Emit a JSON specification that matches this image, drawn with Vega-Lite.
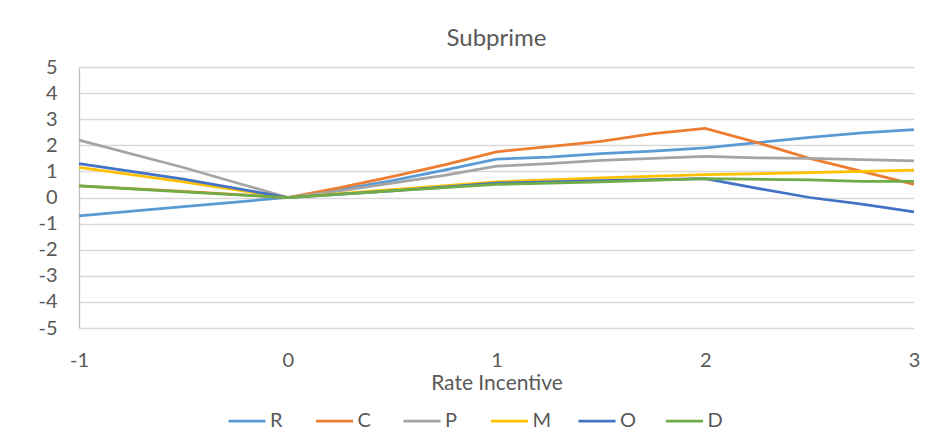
{
  "$schema": "https://vega.github.io/schema/vega-lite/v6.json",
  "width": 835,
  "height": 261,
  "autosize": "none",
  "padding": {"left": 79, "top": 67, "right": 32, "bottom": 118},
  "background": "white",
  "config": {
    "view": {"stroke": null},
    "font": "Lato"
  },
  "title": {
    "text": "Subprime",
    "fontSize": 24,
    "font": "Lato",
    "fontWeight": "normal",
    "color": "#595959",
    "anchor": "middle",
    "offset": 6
  },
  "data": {
    "values": [
      {"x": -1, "s": "R", "y": -0.7}, {"x": -0.5, "s": "R", "y": -0.35}, {"x": 0, "s": "R", "y": 0},
      {"x": 0.25, "s": "R", "y": 0.3}, {"x": 0.5, "s": "R", "y": 0.65}, {"x": 0.75, "s": "R", "y": 1.05},
      {"x": 1, "s": "R", "y": 1.47}, {"x": 1.25, "s": "R", "y": 1.55}, {"x": 1.5, "s": "R", "y": 1.68},
      {"x": 1.75, "s": "R", "y": 1.78}, {"x": 2, "s": "R", "y": 1.9}, {"x": 2.25, "s": "R", "y": 2.1},
      {"x": 2.5, "s": "R", "y": 2.3}, {"x": 2.75, "s": "R", "y": 2.48}, {"x": 3, "s": "R", "y": 2.6},

      {"x": -1, "s": "C", "y": 0.45}, {"x": -0.5, "s": "C", "y": 0.23}, {"x": 0, "s": "C", "y": 0},
      {"x": 0.25, "s": "C", "y": 0.38}, {"x": 0.5, "s": "C", "y": 0.8}, {"x": 0.75, "s": "C", "y": 1.25},
      {"x": 1, "s": "C", "y": 1.75}, {"x": 1.25, "s": "C", "y": 1.95}, {"x": 1.5, "s": "C", "y": 2.15},
      {"x": 1.75, "s": "C", "y": 2.45}, {"x": 2, "s": "C", "y": 2.65}, {"x": 2.25, "s": "C", "y": 2.1},
      {"x": 2.5, "s": "C", "y": 1.5}, {"x": 2.75, "s": "C", "y": 1.0}, {"x": 3, "s": "C", "y": 0.5},

      {"x": -1, "s": "P", "y": 2.2}, {"x": -0.5, "s": "P", "y": 1.15}, {"x": 0, "s": "P", "y": 0},
      {"x": 0.25, "s": "P", "y": 0.25}, {"x": 0.5, "s": "P", "y": 0.55}, {"x": 0.75, "s": "P", "y": 0.85},
      {"x": 1, "s": "P", "y": 1.2}, {"x": 1.25, "s": "P", "y": 1.3}, {"x": 1.5, "s": "P", "y": 1.42},
      {"x": 1.75, "s": "P", "y": 1.5}, {"x": 2, "s": "P", "y": 1.58}, {"x": 2.25, "s": "P", "y": 1.52},
      {"x": 2.5, "s": "P", "y": 1.5}, {"x": 2.75, "s": "P", "y": 1.45}, {"x": 3, "s": "P", "y": 1.4},

      {"x": -1, "s": "M", "y": 1.15}, {"x": -0.5, "s": "M", "y": 0.6}, {"x": 0, "s": "M", "y": 0},
      {"x": 0.5, "s": "M", "y": 0.3}, {"x": 1, "s": "M", "y": 0.6}, {"x": 1.5, "s": "M", "y": 0.75},
      {"x": 2, "s": "M", "y": 0.88}, {"x": 2.5, "s": "M", "y": 0.95}, {"x": 3, "s": "M", "y": 1.05},

      {"x": -1, "s": "O", "y": 1.3}, {"x": -0.5, "s": "O", "y": 0.7}, {"x": 0, "s": "O", "y": 0},
      {"x": 0.5, "s": "O", "y": 0.25}, {"x": 1, "s": "O", "y": 0.55}, {"x": 1.5, "s": "O", "y": 0.65},
      {"x": 2, "s": "O", "y": 0.72}, {"x": 2.25, "s": "O", "y": 0.35}, {"x": 2.5, "s": "O", "y": 0.0},
      {"x": 2.75, "s": "O", "y": -0.25}, {"x": 3, "s": "O", "y": -0.55},

      {"x": -1, "s": "D", "y": 0.45}, {"x": -0.5, "s": "D", "y": 0.22}, {"x": 0, "s": "D", "y": 0},
      {"x": 0.5, "s": "D", "y": 0.25}, {"x": 1, "s": "D", "y": 0.5}, {"x": 1.5, "s": "D", "y": 0.6},
      {"x": 2, "s": "D", "y": 0.72}, {"x": 2.5, "s": "D", "y": 0.68}, {"x": 2.75, "s": "D", "y": 0.62},
      {"x": 3, "s": "D", "y": 0.62}
    ]
  },
  "mark": {"type": "line", "strokeWidth": 2.75},
  "encoding": {
    "x": {
      "field": "x",
      "type": "quantitative",
      "scale": {"domain": [-1, 3], "nice": false, "zero": false},
      "axis": {
        "title": "Rate Incentive",
        "values": [-1, 0, 1, 2, 3],
        "labelExpr": "'' + datum.value",
        "labelFlush": false,
        "grid": false,
        "domain": false,
        "ticks": false,
        "labelPadding": 22,
        "labelFontSize": 20,
        "labelColor": "#595959",
        "titleFontSize": 21,
        "titleFontWeight": "normal",
        "titleColor": "#595959",
        "titlePadding": 2,
        "labelFont": "Lato",
        "titleFont": "Lato"
      }
    },
    "y": {
      "field": "y",
      "type": "quantitative",
      "scale": {"domain": [-5, 5], "nice": false},
      "axis": {
        "title": null,
        "values": [-5, -4, -3, -2, -1, 0, 1, 2, 3, 4, 5],
        "labelExpr": "'' + datum.value",
        "grid": true,
        "gridColor": "#d9d9d9",
        "gridWidth": 1.3,
        "domain": true,
        "domainColor": "#bfbfbf",
        "domainWidth": 1.3,
        "ticks": false,
        "labelPadding": 22,
        "labelFontSize": 20,
        "labelColor": "#595959",
        "labelFont": "Lato"
      }
    },
    "color": {
      "field": "s",
      "type": "nominal",
      "sort": ["R", "C", "P", "M", "O", "D"],
      "scale": {
        "domain": ["R", "C", "P", "M", "O", "D"],
        "range": ["#5b9bd5", "#ed7d31", "#a5a5a5", "#ffc000", "#4472c4", "#70ad47"]
      },
      "legend": {
        "title": null,
        "orient": "none",
        "legendX": 148,
        "legendY": 334,
        "direction": "horizontal",
        "symbolType": "stroke",
        "symbolSize": 1369,
        "symbolStrokeWidth": 2.75,
        "labelFontSize": 20,
        "labelColor": "#595959",
        "labelFont": "Lato",
        "labelOffset": 3,
        "columnPadding": 21.5,
        "gridAlign": "all"
      }
    }
  }
}
